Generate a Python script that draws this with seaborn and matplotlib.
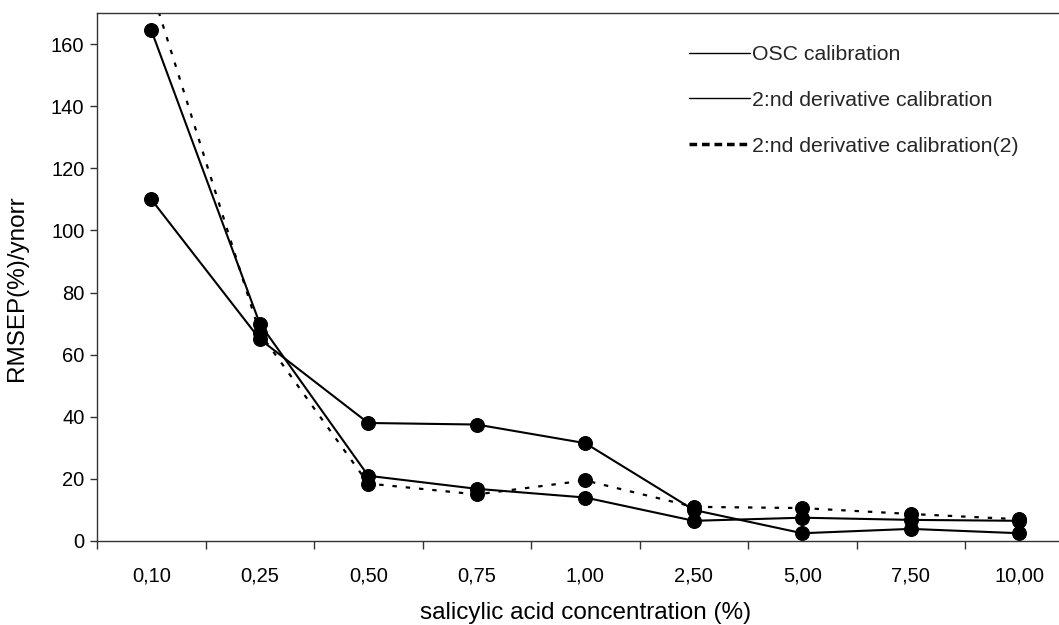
import matplotlib
matplotlib.use("Agg")
import matplotlib.pyplot as plt
from matplotlib.lines import Line2D
import seaborn as sns
import pandas as pd

categories = ['0,10', '0,25', '0,50', '0,75', '1,00', '2,50', '5,00', '7,50', '10,00']
osc_calibration = [110, 65, 38, 37.5, 31.5, 10, 2.5, 3.9, 2.5]
deriv_calibration = [164.5, 70, 21, 16.8, 14, 6.5, 7.5, 6.8, 6.5]
deriv_calibration2 = [178, 67, 18.5, 15, 19.5, 11, 10.6, 8.7, 7]
series_names = ['OSC calibration', '2:nd derivative calibration',
                '2:nd derivative calibration(2)']

sns.set_theme(style="white")
plt.rcParams['font.family'] = ['Liberation Sans', 'DejaVu Sans']

W, H = 1059, 625
fig = plt.figure(figsize=(W / 100, H / 100), dpi=100)
left_px, top_px, bottom_px = 97, 13, 541
spacing_px = 108.5
ax_w = 9 * spacing_px
ax = fig.add_axes([left_px / W, 1 - bottom_px / H, ax_w / W, (bottom_px - top_px) / H])

styles = [dict(linestyle='-', lw=1.5), dict(linestyle='-', lw=1.5),
          dict(linestyle=(0, (2, 4)), lw=1.6)]
for vals, st in zip([osc_calibration, deriv_calibration, deriv_calibration2], styles):
    df = pd.DataFrame({'cat': categories, 'val': vals})
    sns.lineplot(data=df, x='cat', y='val', ax=ax, color='black', marker='o',
                 markersize=10, markeredgecolor='black', sort=False,
                 linestyle=st['linestyle'], linewidth=st['lw'], clip_on=True)

tick_fs = 14.5
ax.set_xlim(-0.5, 8.5)
ax.set_ylim(0, 170)
ax.set_yticks(range(0, 161, 20))
ax.set_xticks(range(len(categories)))
ax.set_xticklabels(categories)
ax.set_xticks([i - 0.5 for i in range(len(categories))], minor=True)
ax.tick_params(axis='x', which='major', length=0, pad=18, labelsize=tick_fs, colors='black')
ax.tick_params(axis='x', which='minor', length=6, width=1, direction='out', color='#333333', bottom=True)
ax.tick_params(axis='y', length=5, width=1, direction='out', left=True, pad=4,
               labelsize=tick_fs, color='#333333', labelcolor='black')

for s in ['left', 'bottom', 'top']:
    ax.spines[s].set_color('#333333')
    ax.spines[s].set_linewidth(1)
ax.spines['right'].set_visible(False)

ax.set_xlabel('salicylic acid concentration (%)', fontsize=17.5, labelpad=12, color='black')
ax.set_ylabel('RMSEP(%)/ynorr', fontsize=17.5, color='black')
ax.yaxis.set_label_coords(-0.0707, 0.478)

handles = [Line2D([], [], color='black', lw=1.0),
           Line2D([], [], color='black', lw=1.0),
           Line2D([], [], color='black', lw=2.5, linestyle=(0, (2.2, 1.4)))]
fig.legend(handles, series_names, loc='upper left',
           bbox_to_anchor=(689 / W, 1 - 45 / H), bbox_transform=fig.transFigure,
           frameon=False, fontsize=15.3, handlelength=2.85, handletextpad=0.1,
           labelspacing=1.26, borderpad=0, borderaxespad=0)

fig.savefig('out.png', dpi=100)
